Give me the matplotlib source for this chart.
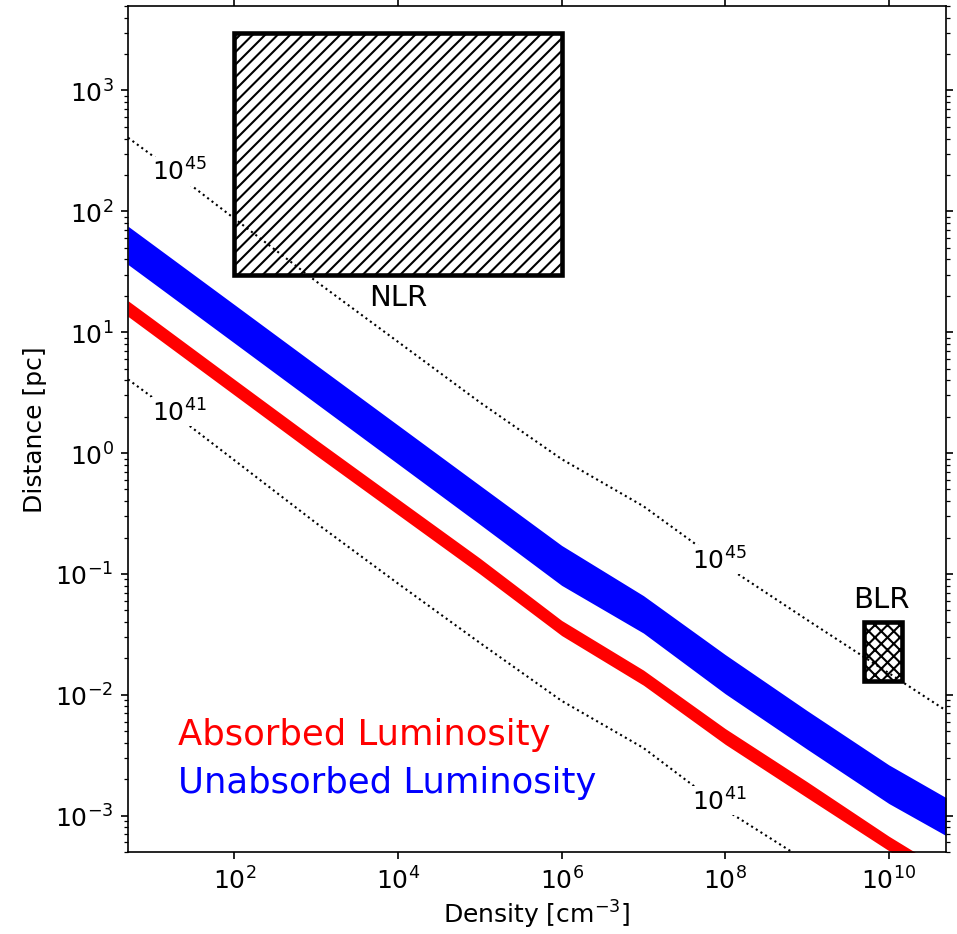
import matplotlib
matplotlib.use("Agg")
from matplotlib import pyplot as plt
from matplotlib.patches import Rectangle
from matplotlib.ticker import NullLocator, LogLocator
import numpy as np

# density grid [cm^-3]
density = [5, 1e1, 1e2, 1e3, 1e4, 1e5, 1e6, 1e7, 1e8, 1e9, 1e10, 5e10]

# unabsorbed luminosity band (blue) [pc]
unabs_hi = [75.3, 53.3, 16.9, 5.35, 1.70, 0.540, 0.172, 0.0661, 0.0215, 0.00740, 0.00263, 0.00141]
unabs_lo = [36.3, 25.7, 8.13, 2.57, 0.813, 0.257, 0.0804, 0.0324, 0.0102, 0.00355, 0.00126, 0.000684]

# absorbed luminosity band (red) [pc]
abs_hi = [18.2, 12.9, 4.07, 1.29, 0.417, 0.135, 0.0412, 0.0160, 0.00525, 0.00191, 0.000676, 0.000347]
abs_lo = [13.5, 9.55, 3.02, 0.955, 0.309, 0.100, 0.0309, 0.0120, 0.00389, 0.00141, 0.000513, 0.000257]

# constant luminosity curves
lum_45 = [407, 288, 87.1, 26.3, 8.32, 2.63, 0.891, 0.363, 0.117, 0.0417, 0.0151, 0.00741]
lum_41 = [4.07, 2.88, 0.871, 0.263, 0.0832, 0.0269, 0.00891, 0.00363, 0.00112, 0.000417, 0.000151, 0.0000741]

# regions: (n_min, n_max, r_min, r_max)
nlr = (1e2, 1e6, 30, 3000)
blr = (5e9, 1.45e10, 0.013, 0.04)

fig = plt.figure(figsize=(6.38, 6.2333), dpi=150)
ax = fig.add_axes([0.1338, 0.0877, 0.8547, 0.9048])

ax.fill_between(density, unabs_lo, unabs_hi, color="blue", lw=0)
ax.fill_between(density, abs_lo, abs_hi, color="red", lw=0)

ax.plot(density, lum_45, ":", color="black", lw=1)
ax.plot(density, lum_41, ":", color="black", lw=1)

lab = dict(fontsize=12, ha="center", va="center",
           bbox=dict(facecolor="white", edgecolor="none", pad=0.5))
ax.text(21.3, 214, "$10^{45}$", **lab)
ax.text(8.4e7, 0.1315, "$10^{45}$", **lab)
ax.text(21.3, 2.2, "$10^{41}$", **lab)
ax.text(8.4e7, 0.00133, "$10^{41}$", **lab)

ax.add_patch(Rectangle((nlr[0], nlr[2]), nlr[1] - nlr[0], nlr[3] - nlr[2],
                       fill=False, hatch="////", lw=2.2, edgecolor="black"))
ax.add_patch(Rectangle((blr[0], blr[2]), blr[1] - blr[0], blr[3] - blr[2],
                       fill=False, hatch="xxxx", lw=2.2, edgecolor="black"))
ax.text(1e4, 19.5, "NLR", fontsize=14, ha="center", va="center")
ax.text(8e9, 0.0625, "BLR", fontsize=14, ha="center", va="center")

ax.text(0.061, 0.139, "Absorbed Luminosity", color="red", fontsize=17,
        transform=ax.transAxes, va="center")
ax.text(0.061, 0.083, "Unabsorbed Luminosity", color="blue", fontsize=17,
        transform=ax.transAxes, va="center")

ax.set_xscale("log")
ax.set_yscale("log")
ax.set_xlim(5, 5e10)
ax.set_ylim(5e-4, 5e3)
ax.set_xticks([1e2, 1e4, 1e6, 1e8, 1e10])
ax.xaxis.set_minor_locator(NullLocator())
ax.yaxis.set_major_locator(LogLocator(base=10, numticks=20))
ax.yaxis.set_minor_locator(LogLocator(base=10, subs=np.arange(2, 10), numticks=20))
ax.tick_params(which="both", top=True, right=True, labelsize=12)

ax.set_xlabel("Density [cm$^{-3}$]", fontsize=12, labelpad=2)
ax.set_ylabel("Distance [pc]", fontsize=12)

fig.savefig("out.png", dpi=150)
